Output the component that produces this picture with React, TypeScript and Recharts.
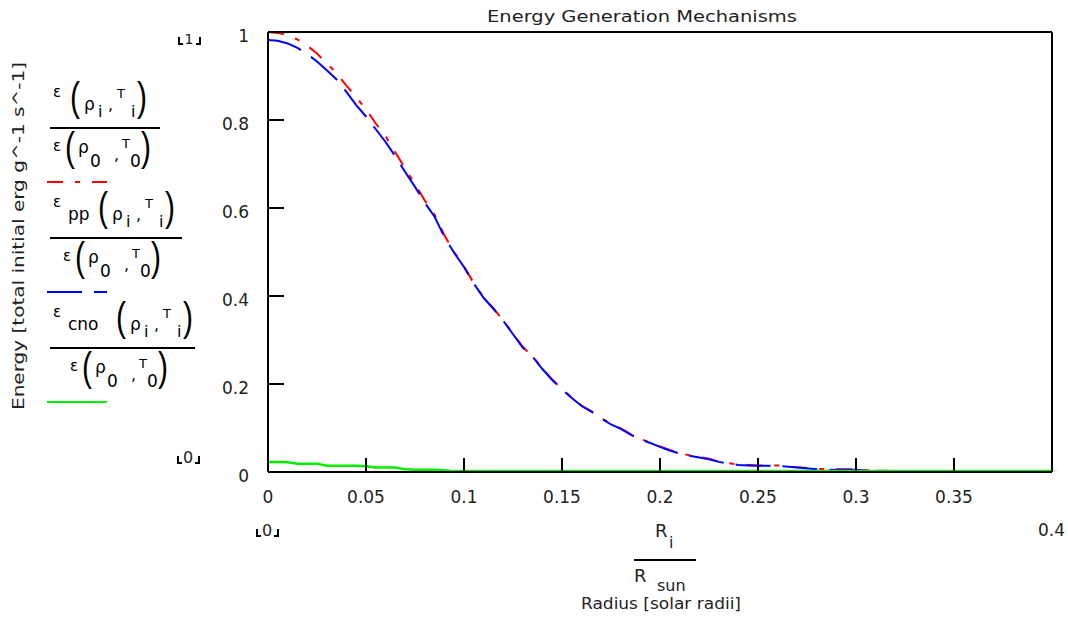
import React from 'react';
import { LineChart, Line, XAxis, YAxis, Legend } from 'recharts';

// ---- data ----
const radius = [
  0, 0.005, 0.01, 0.015, 0.02, 0.025, 0.03, 0.035, 0.04, 0.045,
  0.05, 0.055, 0.06, 0.065, 0.07, 0.075, 0.08, 0.085, 0.09, 0.095,
  0.1, 0.105, 0.11, 0.115, 0.12, 0.125, 0.13, 0.135, 0.14, 0.145,
  0.15, 0.155, 0.16, 0.165, 0.17, 0.175, 0.18, 0.185, 0.19, 0.195,
  0.2, 0.205, 0.21, 0.215, 0.22, 0.225, 0.23, 0.235, 0.24, 0.245,
  0.25, 0.26, 0.27, 0.28, 0.29, 0.3, 0.31, 0.32, 0.33, 0.34,
  0.35, 0.36, 0.37, 0.38, 0.39, 0.4,
];

const totalEnergy = [
  1.0, 0.998, 0.993, 0.983, 0.969, 0.951, 0.929, 0.906, 0.878, 0.852,
  0.824, 0.792, 0.763, 0.726, 0.690, 0.654, 0.617, 0.585, 0.538, 0.500,
  0.467, 0.429, 0.397, 0.372, 0.345, 0.314, 0.284, 0.263, 0.235, 0.210,
  0.189, 0.169, 0.151, 0.138, 0.123, 0.109, 0.099, 0.086, 0.075, 0.067,
  0.058, 0.050, 0.043, 0.038, 0.034, 0.030, 0.024, 0.020, 0.017, 0.016,
  0.015, 0.015, 0.011, 0.007, 0.006, 0.006, 0.003, 0.002, 0.002, 0.002,
  0.002, 0.002, 0.002, 0.002, 0.002, 0.002,
];

const ppEnergy = [
  0.982, 0.980, 0.974, 0.964, 0.950, 0.933, 0.913, 0.892, 0.864, 0.834,
  0.808, 0.779, 0.750, 0.717, 0.682, 0.648, 0.612, 0.580, 0.534, 0.498,
  0.466, 0.428, 0.396, 0.371, 0.344, 0.313, 0.283, 0.262, 0.234, 0.209,
  0.188, 0.168, 0.150, 0.137, 0.122, 0.108, 0.098, 0.085, 0.074, 0.066,
  0.057, 0.049, 0.042, 0.037, 0.033, 0.029, 0.023, 0.019, 0.016, 0.015,
  0.014, 0.014, 0.010, 0.006, 0.005, 0.005, 0.003, 0.001, 0.001, 0.001,
  0.001, 0.001, 0.001, 0.001, 0.001, 0.001,
];

const cnoEnergy = [
  0.023, 0.023, 0.022, 0.019, 0.019, 0.019, 0.014, 0.014, 0.014, 0.014,
  0.013, 0.010, 0.010, 0.010, 0.006, 0.005, 0.005, 0.005, 0.004, 0.002,
  0.002, 0.002, 0.002, 0.002, 0.002, 0.002, 0.002, 0.002, 0.002, 0.002,
  0.002, 0.002, 0.002, 0.002, 0.002, 0.002, 0.002, 0.002, 0.002, 0.002,
  0.002, 0.002, 0.002, 0.002, 0.002, 0.002, 0.002, 0.002, 0.002, 0.002,
  0.002, 0.002, 0.002, 0.002, 0.002, 0.002, 0.002, 0.002, 0.002, 0.002,
  0.002, 0.002, 0.002, 0.002, 0.002, 0.002,
];

const xTicks = [0, 0.05, 0.1, 0.15, 0.2, 0.25, 0.3, 0.35];
const xTickLabels = ['0', '0.05', '0.1', '0.15', '0.2', '0.25', '0.3', '0.35'];
const yTicks = [0, 0.2, 0.4, 0.6, 0.8, 1];
const yTickLabels = ['0', '0.2', '0.4', '0.6', '0.8', '1'];

const chartTitle = 'Energy Generation Mechanisms';
const xTitle = 'Radius [solar radii]';
const yTitle = 'Energy [total initial erg g^-1 s^-1]';

const series = [
  { key: 'total', color: '#ff0000', dash: '16 12 5 12', sub: '', width: 2 },
  { key: 'pp', color: '#0000ff', dash: '35 12', sub: 'pp', width: 2 },
  { key: 'cno', color: '#00f000', dash: undefined as string | undefined, sub: 'cno', width: 2.5 },
];

const data = radius.map((r, i) => ({
  r,
  total: totalEnergy[i],
  pp: ppEnergy[i],
  cno: cnoEnergy[i],
}));

// ---- styling ----
const FONT = '"DejaVu Sans", Verdana, sans-serif';
const PFONT = '"Liberation Sans", Arial, sans-serif';
const W = 1068;
const H = 620;

const XTick = (props: any) => {
  const { x, y, index } = props;
  return (
    <text x={x} y={y} textAnchor="middle" fontSize={17} fontFamily={FONT} fill="#222">
      {xTickLabels[index]}
    </text>
  );
};

const YTick = (props: any) => {
  const { x, y, index } = props;
  return (
    <text x={x} y={y + 10} textAnchor="end" fontSize={17} fontFamily={FONT} fill="#222">
      {yTickLabels[index]}
    </text>
  );
};

const Paren = ({ x, y, ch }: { x: number; y: number; ch: string }) => (
  <text transform={`translate(${x},${y}) scale(1,1.35)`} fontSize={30} fontFamily={PFONT} fill="#000">
    {ch}
  </text>
);

const legendRows = [
  { bar: 128, barEnd: 160, shift: 0, dl: 53, sample: 182 },
  { bar: 238, barEnd: 182, shift: 28, dl: 63, sample: 292 },
  { bar: 348, barEnd: 195, shift: 46, dl: 70, sample: 402 },
];

const Numerator = ({ B, sub, s }: { B: number; sub: string; s: number }) => {
  const nl = 53;
  return (
    <g fontFamily={FONT} fill="#000">
      <text x={nl} y={B - 13} fontSize={15}>ε</text>
      {sub ? <text x={nl + 15} y={B} fontSize={17}>{sub}</text> : null}
      <Paren x={nl + 17 + s} y={B + 1} ch="(" />
      <text x={nl + 31 + s} y={B} fontSize={17}>ρ</text>
      <text x={nl + 45 + s} y={B + 7} fontSize={16}>i</text>
      <text x={nl + 55 + s} y={B} fontSize={16}>,</text>
      <text x={nl + 64 + s} y={B - 12} fontSize={13}>T</text>
      <text x={nl + 78 + s} y={B + 7} fontSize={16}>i</text>
      <Paren x={nl + 84 + s} y={B + 1} ch=")" />
    </g>
  );
};

const Denominator = ({ Bd, dl }: { Bd: number; dl: number }) => (
  <g fontFamily={FONT} fill="#000">
    <text x={dl} y={Bd - 2} fontSize={15}>ε</text>
    <Paren x={dl + 12} y={Bd + 8} ch="(" />
    <text x={dl + 25} y={Bd} fontSize={17}>ρ</text>
    <text x={dl + 37} y={Bd + 14} fontSize={17}>0</text>
    <text x={dl + 61} y={Bd + 7} fontSize={16}>,</text>
    <text x={dl + 69} y={Bd - 5} fontSize={13}>T</text>
    <text x={dl + 77} y={Bd + 14} fontSize={17}>0</text>
    <Paren x={dl + 88} y={Bd + 8} ch=")" />
  </g>
);

const renderLegend = () => (
  <svg width={262} height={H} style={{ display: 'block' }}>
    {series.map((s, i) => {
      const row = legendRows[i];
      return (
        <g key={s.key}>
          <Numerator B={row.bar - 18} sub={s.sub} s={row.shift} />
          <line x1={50} x2={row.barEnd} y1={row.bar} y2={row.bar} stroke="#000" strokeWidth={2} />
          <Denominator Bd={row.bar + 25} dl={row.dl} />
          <line
            x1={47}
            x2={107}
            y1={row.sample}
            y2={row.sample}
            stroke={s.color}
            strokeWidth={2}
            strokeDasharray={s.dash}
          />
        </g>
      );
    })}
  </svg>
);

const Corner = ({ cx, base, label, fs }: { cx: number; base: number; label: string; fs: number }) => (
  <g>
    <path
      d={`M${cx - 10} ${base - 7} V${base} H${cx - 6} M${cx + 7} ${base} H${cx + 11} V${base - 7}`}
      stroke="#000"
      strokeWidth={2}
      fill="none"
    />
    <text x={cx} y={base} textAnchor="middle" fontSize={fs} fontFamily={FONT} fill="#222">
      {label}
    </text>
  </g>
);

const Overlay = () => (
  <svg width={W} height={H} style={{ position: 'absolute', left: 0, top: 0, pointerEvents: 'none' }}>
    <text x={642} y={22} textAnchor="middle" fontSize={16} fontFamily={FONT} fill="#222"
      textLength={310} lengthAdjust="spacingAndGlyphs">
      {chartTitle}
    </text>
    <text transform="translate(24,236) rotate(-90)" textAnchor="middle" fontSize={16} fontFamily={FONT}
      fill="#222" textLength={348} lengthAdjust="spacingAndGlyphs">
      {yTitle}
    </text>
    <text x={661} y={609} textAnchor="middle" fontSize={16} fontFamily={FONT} fill="#222"
      textLength={160} lengthAdjust="spacingAndGlyphs">
      {xTitle}
    </text>
    {/* R_i / R_sun */}
    <g fontFamily={FONT} fill="#222">
      <text x={655} y={537} fontSize={18}>R</text>
      <text x={669} y={548} fontSize={16}>i</text>
      <line x1={634} x2={696} y1={560} y2={560} stroke="#000" strokeWidth={2} />
      <text x={634} y={582} fontSize={18}>R</text>
      <text x={657} y={591} fontSize={16}>sun</text>
    </g>
    <Corner cx={189} base={44} label="1" fs={14} />
    <Corner cx={188} base={463} label="0" fs={16} />
    <Corner cx={267} base={536} label="0" fs={16} />
    <text x={1065} y={536} textAnchor="end" fontSize={17} fontFamily={FONT} fill="#222">0.4</text>
  </svg>
);

const axisLine = { stroke: '#000', strokeWidth: 2 };
const tickLine = { stroke: '#000', strokeWidth: 2 };

export default function App() {
  return (
    <div style={{ position: 'absolute', left: 0, top: 0, width: W, height: H, background: '#fff' }}>
      <LineChart
        width={W}
        height={H}
        data={data}
        margin={{ top: 30, right: 14, bottom: 118, left: 208 }}
        style={{ fontFamily: FONT }}
      >
        <XAxis
          type="number"
          dataKey="r"
          domain={[0, 0.4]}
          ticks={xTicks}
          interval={0}
          height={30}
          tickSize={-14}
          tickMargin={45}
          tick={<XTick />}
          axisLine={axisLine}
          tickLine={tickLine}
          allowDataOverflow
        />
        <XAxis
          xAxisId="top"
          orientation="top"
          type="number"
          dataKey="r"
          domain={[0, 0.4]}
          ticks={xTicks}
          interval={0}
          height={2}
          tickSize={-14}
          tick={false}
          axisLine={axisLine}
          tickLine={tickLine}
          allowDataOverflow
        />
        <YAxis
          type="number"
          domain={[0, 1]}
          ticks={yTicks}
          interval={0}
          width={60}
          tickSize={-16}
          tickMargin={35}
          tick={<YTick />}
          axisLine={axisLine}
          tickLine={tickLine}
          allowDataOverflow
        />
        <YAxis
          yAxisId="right"
          orientation="right"
          type="number"
          domain={[0, 1]}
          ticks={yTicks}
          interval={0}
          width={2}
          tickSize={-16}
          tick={false}
          axisLine={axisLine}
          tickLine={tickLine}
          allowDataOverflow
        />
        <Legend
          layout="vertical"
          align="center"
          verticalAlign="middle"
          content={renderLegend}
          wrapperStyle={{ left: 0, top: 0, width: 262, height: H }}
        />
        {series.map((s) => (
          <Line
            key={s.key}
            type="linear"
            dataKey={s.key}
            stroke={s.color}
            strokeWidth={s.width}
            strokeDasharray={s.dash}
            dot={false}
            activeDot={false}
            isAnimationActive={false}
          />
        ))}
      </LineChart>
      <Overlay />
    </div>
  );
}
